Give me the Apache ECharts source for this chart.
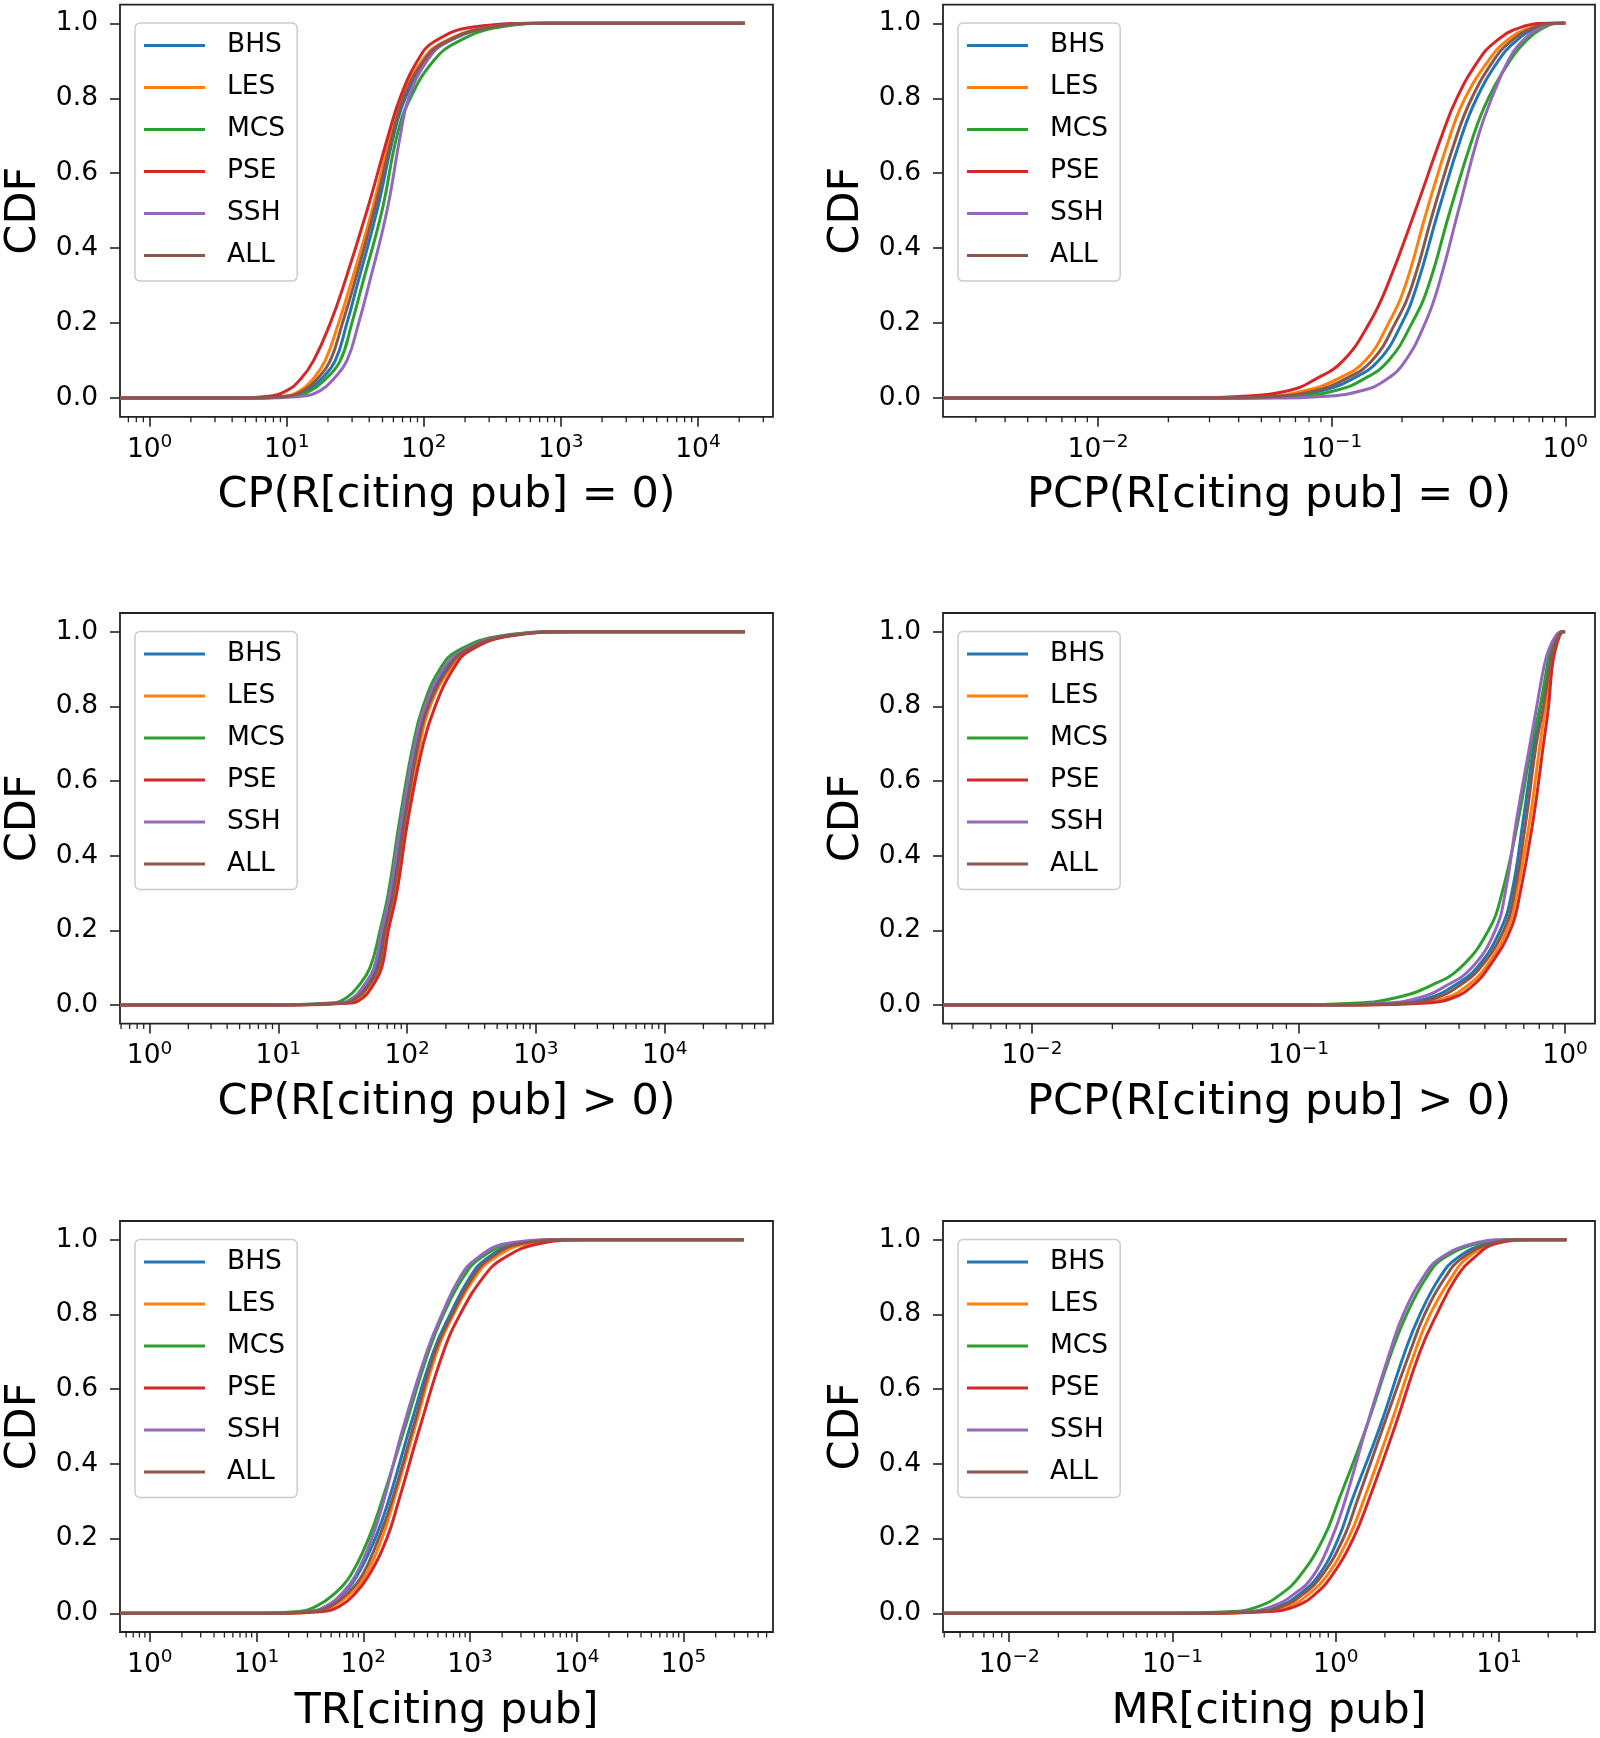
<!DOCTYPE html>
<html><head><meta charset="utf-8">
<script src="https://cdn.jsdelivr.net/npm/echarts@6/dist/echarts.min.js"></script>
<style>html,body{margin:0;padding:0;background:#fff}#c{width:1600px;height:1738px}</style>
</head><body><div id="c"></div>
<script>
// ---------- data ----------
const seriesNames = ['BHS', 'LES', 'MCS', 'PSE', 'SSH', 'ALL'];
const seriesColors = ['#1f77b4', '#ff7f0e', '#2ca02c', '#d62728', '#9467bd', '#8c564b'];
// CDF level of each x value in the series arrays below (start, onset, quantiles..., saturation, end)
const cdfLevels = [0, 0, 0.005, 0.02, 0.05, 0.1, 0.2, 0.3, 0.5, 0.7, 0.8, 0.9, 0.95, 0.99, 1, 1];
const yTicks = [0, 0.2, 0.4, 0.6, 0.8, 1.0];

// Panel 1: CP(R[citing pub] = 0)
const p1Title = 'CP(R[citing pub] = 0)';
const p1Range = [0.608, 35300];
const p1Majors = [1, 10, 100, 1000, 10000];
const p1BHS = [0.608, 5, 10.5, 14.1, 17.8, 22.6, 27.5, 32.6, 45.6, 60.3, 73.3, 102.6, 147, 323, 800, 22000];
const p1LES = [0.608, 4.5, 9.5, 12.6, 15.5, 19.1, 23.9, 29.1, 41.9, 57, 69.3, 97, 139, 305, 750, 22000];
const p1MCS = [0.608, 5, 10.7, 14.9, 19.1, 24.6, 29.9, 35.4, 49.6, 63.8, 79.7, 118, 175, 361, 900, 22000];
const p1PSE = [0.608, 4, 7.4, 10, 12.6, 15.7, 20.8, 26, 38.5, 55, 67, 90, 118, 230, 700, 22000];
const p1SSH = [0.608, 6, 12.9, 17.6, 21.9, 27.5, 33.5, 39.6, 53.9, 67.4, 77.5, 105.5, 147.5, 305, 800, 22000];
const p1ALL = [0.608, 4.5, 10, 13.3, 16.6, 20.8, 25.5, 30.8, 43.5, 59, 71, 100, 143, 315, 750, 22000];

// Panel 2: PCP(R[citing pub] = 0)
const p2Title = 'PCP(R[citing pub] = 0)';
const p2Range = [0.00217, 1.34];
const p2Majors = [0.01, 0.1, 1];
const p2BHS = [0.00217, 0.035, 0.063, 0.0911, 0.1216, 0.1589, 0.1999, 0.2316, 0.2866, 0.3603, 0.4175, 0.5164, 0.6081, 0.7651, 0.95, 1.0];
const p2LES = [0.00217, 0.03, 0.054, 0.0774, 0.105, 0.1394, 0.1753, 0.2065, 0.2555, 0.3213, 0.3723, 0.4682, 0.5512, 0.7166, 0.92, 1.0];
const p2MCS = [0.00217, 0.04, 0.072, 0.1039, 0.1365, 0.1753, 0.2206, 0.2597, 0.3213, 0.4041, 0.4682, 0.579, 0.671, 0.8166, 0.98, 1.0];
const p2PSE = [0.00217, 0.022, 0.042, 0.0657, 0.085, 0.112, 0.145, 0.173, 0.228, 0.296, 0.343, 0.424, 0.5, 0.649, 0.86, 1.0];
const p2SSH = [0.00217, 0.055, 0.095, 0.135, 0.172, 0.207, 0.2513, 0.2866, 0.3487, 0.4244, 0.4838, 0.5695, 0.6494, 0.7901, 0.962, 1.0];
const p2ALL = [0.00217, 0.03, 0.059, 0.0853, 0.1135, 0.1489, 0.1872, 0.2206, 0.2728, 0.343, 0.3975, 0.4918, 0.579, 0.7405, 0.93, 1.0];

// Panel 3: CP(R[citing pub] > 0)
const p3Title = 'CP(R[citing pub] > 0)';
const p3Range = [0.589, 69400];
const p3Majors = [1, 10, 100, 1000, 10000];
const p3BHS = [0.589, 10, 31.6, 40.6, 48.4, 58, 65.4, 75.9, 93.4, 118.6, 142, 200, 280, 610, 1750, 41900];
const p3LES = [0.589, 11, 33.9, 43.1, 51.3, 61.6, 69.4, 80, 99.2, 126, 150.6, 215, 300, 650, 1850, 41900];
const p3MCS = [0.589, 8, 25.7, 34, 41.7, 51.5, 61.6, 71.5, 88, 111.7, 133, 180, 250, 558, 1600, 41900];
const p3PSE = [0.589, 12, 36.3, 45.7, 53.7, 63.5, 71.5, 83, 102, 133.6, 165, 228, 308, 668, 1900, 41900];
const p3SSH = [0.589, 9, 29.5, 38.2, 45.7, 55.3, 63.5, 73.6, 90.7, 115, 138, 190, 273, 593, 1700, 41900];
const p3ALL = [0.589, 10, 31.6, 41, 49.5, 59.8, 67.4, 78.1, 96.3, 122, 146, 207, 285, 625, 1800, 41900];

// Panel 4: PCP(R[citing pub] > 0)
const p4Title = 'PCP(R[citing pub] > 0)';
const p4Range = [0.00463, 1.295];
const p4Majors = [0.01, 0.1, 1];
const p4BHS = [0.00463, 0.14, 0.24, 0.312, 0.38, 0.467, 0.571, 0.631, 0.698, 0.765, 0.81, 0.862, 0.89, 0.94, 0.975, 1.0];
const p4LES = [0.00463, 0.16, 0.282, 0.36, 0.427, 0.502, 0.605, 0.659, 0.739, 0.806, 0.845, 0.885, 0.91, 0.95, 0.98, 1.0];
const p4MCS = [0.00463, 0.09, 0.166, 0.234, 0.309, 0.405, 0.516, 0.58, 0.669, 0.75, 0.806, 0.853, 0.88, 0.935, 0.975, 1.0];
const p4PSE = [0.00463, 0.17, 0.302, 0.382, 0.447, 0.516, 0.623, 0.678, 0.761, 0.83, 0.867, 0.892, 0.918, 0.955, 0.982, 1.0];
const p4SSH = [0.00463, 0.13, 0.214, 0.286, 0.355, 0.447, 0.547, 0.596, 0.659, 0.739, 0.783, 0.83, 0.867, 0.925, 0.97, 1.0];
const p4ALL = [0.00463, 0.15, 0.257, 0.331, 0.398, 0.481, 0.588, 0.645, 0.715, 0.78, 0.83, 0.872, 0.9, 0.945, 0.978, 1.0];

// Panel 5: TR[citing pub]
const p5Title = 'TR[citing pub]';
const p5Range = [0.526, 689000];
const p5Majors = [1, 10, 100, 1000, 10000, 100000];
const p5BHS = [0.526, 11, 31.6, 45.6, 63, 87.1, 129, 172, 275, 454, 651, 1002, 1436, 2800, 9000, 368000];
const p5LES = [0.526, 13, 35.5, 52.6, 74, 104, 149, 192, 306, 489, 700, 1116, 1657, 3500, 10000, 368000];
const p5MCS = [0.526, 8, 25, 36.8, 52.5, 75.4, 112, 149, 247, 408, 564, 867, 1244, 2500, 8000, 368000];
const p5PSE = [0.526, 15, 41.7, 60.8, 82, 112, 166, 214, 341, 564, 808, 1336, 2056, 4532, 12000, 368000];
const p5SSH = [0.526, 10, 31.6, 45.6, 61.7, 84, 120, 155, 238, 394, 545, 808, 1157, 2212, 7000, 368000];
const p5ALL = [0.526, 12, 34, 50, 69, 97, 139, 185, 295, 470, 680, 1060, 1540, 3000, 9500, 368000];

// Panel 6: MR[citing pub]
const p6Title = 'MR[citing pub]';
const p6Range = [0.00393, 38.7];
const p6Majors = [0.01, 0.1, 1, 10];
const p6BHS = [0.00393, 0.11, 0.316, 0.455, 0.596, 0.781, 1.036, 1.25, 1.865, 2.653, 3.279, 4.35, 5.5, 8.5, 13, 25.9];
const p6LES = [0.00393, 0.13, 0.363, 0.524, 0.676, 0.879, 1.193, 1.474, 2.148, 3.055, 3.777, 5.13, 6.33, 9.5, 15, 25.9];
const p6MCS = [0.00393, 0.08, 0.237, 0.343, 0.457, 0.603, 0.838, 1.036, 1.545, 2.199, 2.717, 3.603, 4.56, 7.5, 12, 25.9];
const p6PSE = [0.00393, 0.14, 0.398, 0.575, 0.741, 0.944, 1.279, 1.582, 2.305, 3.279, 4.15, 5.5, 6.96, 9.67, 16, 25.9];
const p6SSH = [0.00393, 0.1, 0.288, 0.414, 0.55, 0.727, 0.944, 1.137, 1.545, 2.148, 2.592, 3.436, 4.35, 7.0, 11, 25.9];
const p6ALL = [0.00393, 0.12, 0.331, 0.477, 0.624, 0.819, 1.111, 1.35, 1.955, 2.85, 3.5, 4.7, 5.9, 9, 14, 25.9];

// ---------- assembly ----------
const panels = [
  { title: p1Title, range: p1Range, majors: p1Majors, data: [p1BHS, p1LES, p1MCS, p1PSE, p1SSH, p1ALL] },
  { title: p2Title, range: p2Range, majors: p2Majors, data: [p2BHS, p2LES, p2MCS, p2PSE, p2SSH, p2ALL] },
  { title: p3Title, range: p3Range, majors: p3Majors, data: [p3BHS, p3LES, p3MCS, p3PSE, p3SSH, p3ALL] },
  { title: p4Title, range: p4Range, majors: p4Majors, data: [p4BHS, p4LES, p4MCS, p4PSE, p4SSH, p4ALL] },
  { title: p5Title, range: p5Range, majors: p5Majors, data: [p5BHS, p5LES, p5MCS, p5PSE, p5SSH, p5ALL] },
  { title: p6Title, range: p6Range, majors: p6Majors, data: [p6BHS, p6LES, p6MCS, p6PSE, p6SSH, p6ALL] }
];

const FONT = 'DejaVu Sans';
const colLeft = [120, 943];
const colWidth = [653, 652];
const rowTop = [4.6, 613, 1221];
const rowHeight = [412.2, 410.6, 411];

function minorTicks(range) {
  const out = [];
  const k0 = Math.floor(Math.log10(range[0])), k1 = Math.ceil(Math.log10(range[1]));
  for (let k = k0; k <= k1; k++) {
    for (let m = 2; m <= 9; m++) {
      const v = m * Math.pow(10, k);
      if (v >= range[0] && v <= range[1]) out.push(v);
    }
  }
  return out;
}
function expLabel(v) {
  const e = Math.round(Math.log10(v));
  return '{b|10}{e|' + (e < 0 ? '\u2212' + (-e) : e) + '}';
}

const grid = [], xAxis = [], yAxis = [], series = [], legend = [];
panels.forEach((p, i) => {
  const r = Math.floor(i / 2), c = i % 2;
  grid.push({ left: colLeft[c], top: rowTop[r], width: colWidth[c], height: rowHeight[r],
    show: true, borderColor: '#222', borderWidth: 1.8, backgroundColor: 'transparent', containLabel: false });
  xAxis.push({
    type: 'log', logBase: 10, gridIndex: i, min: p.range[0], max: p.range[1], position: 'bottom',
    name: p.title, nameLocation: 'middle', nameGap: 58,
    nameTextStyle: { fontFamily: FONT, fontSize: 43, color: '#000' },
    axisLine: { show: false, onZero: false },
    splitLine: { show: false },
    axisTick: { show: true, customValues: p.majors, length: 10, lineStyle: { color: '#222', width: 1.6 } },
    axisLabel: { show: true, customValues: p.majors, margin: 16, formatter: expLabel,
      rich: {
        b: { fontFamily: FONT, fontSize: 26.5, color: '#000', lineHeight: 34 },
        e: { fontFamily: FONT, fontSize: 18.5, color: '#000', lineHeight: 20, verticalAlign: 'top' }
      } }
  });
  yAxis.push({
    type: 'value', gridIndex: i, min: -0.05, max: 1.05,
    name: 'CDF', nameLocation: 'middle', nameGap: 75, nameRotate: 90,
    nameTextStyle: { fontFamily: FONT, fontSize: 43, color: '#000' },
    axisLine: { show: false, onZero: false }, splitLine: { show: false },
    axisTick: { show: true, customValues: yTicks, length: 10, lineStyle: { color: '#222', width: 1.6 } },
    axisLabel: { show: true, customValues: yTicks, margin: 22, fontFamily: FONT, fontSize: 26.5, color: '#000',
      formatter: v => v.toFixed(1) }
  });
  legend.push({
    data: seriesNames, orient: 'vertical', left: colLeft[c] + 15, top: rowTop[r] + 18.5,
    icon: 'rect', itemWidth: 61, itemHeight: 3, itemGap: 15, selectedMode: false,
    textStyle: { fontFamily: FONT, fontSize: 26.5, color: '#000', padding: [0, 0, 0, 17] },
    backgroundColor: 'rgba(255,255,255,0.8)', borderColor: '#ccc', borderWidth: 1.5, borderRadius: 5,
    padding: [9, 12, 12, 9]
  });
  // minor log ticks (2..9 x 10^k) placed through the axis scale
  series.push({
    type: 'custom', coordinateSystem: 'cartesian2d', xAxisIndex: i, yAxisIndex: i,
    data: minorTicks(p.range).map(v => [v, 0]), clip: false, silent: true, animation: false, z: 1,
    renderItem: (params, api) => {
      const x = api.coord([api.value(0), 0])[0];
      const yb = params.coordSys.y + params.coordSys.height;
      return { type: 'line', shape: { x1: x, y1: yb, x2: x, y2: yb + 5.5 },
        style: { stroke: '#222', lineWidth: 1.3 } };
    }
  });
  p.data.forEach((xs, s) => {
    series.push({
      type: 'line', name: seriesNames[s], xAxisIndex: i, yAxisIndex: i,
      data: xs.map((x, k) => [x, cdfLevels[k]]),
      showSymbol: false, symbol: 'none', smooth: 0.45,
      lineStyle: { width: 3, color: seriesColors[s] }, itemStyle: { color: seriesColors[s] },
      color: seriesColors[s], animation: false, silent: true, z: 2 + s
    });
  });
});

const chart = echarts.init(document.getElementById('c'), null, { renderer: 'canvas' });
chart.setOption({ animation: false, backgroundColor: '#fff', grid, xAxis, yAxis, series, legend });
</script></body></html>
